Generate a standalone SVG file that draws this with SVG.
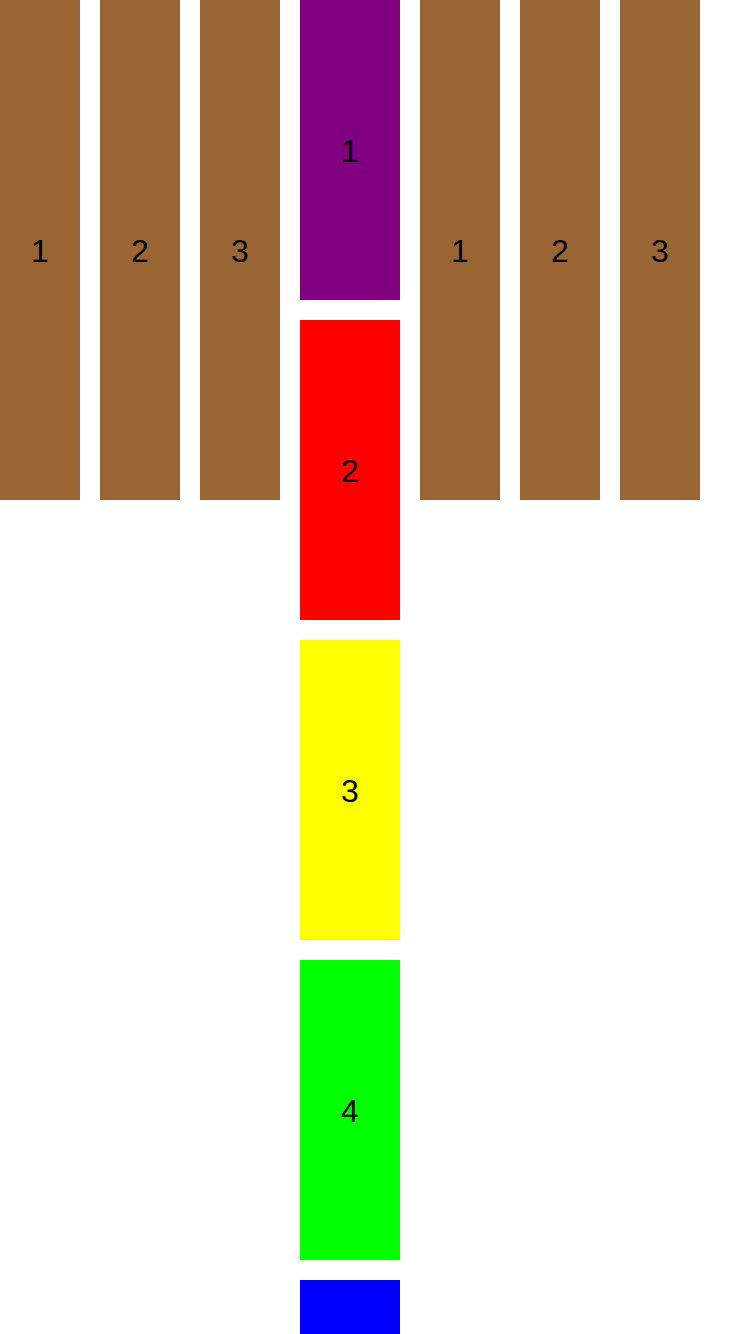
<svg xmlns="http://www.w3.org/2000/svg" width="750" height="1334" viewBox="0 0 750 1334">
<style>
.b{fill:#996633}
.t{font-family:"Liberation Sans",Arial,sans-serif;font-size:32px;fill:#000;text-anchor:middle}
</style>
<rect width="750" height="1334" fill="#fff"/>
<g id="left1"><rect class="b" x="0" y="0" width="80" height="500"/><text class="t" x="40" y="261.5">1</text></g>
<g id="left2"><rect class="b" x="100" y="0" width="80" height="500"/><text class="t" x="140" y="261.5">2</text></g>
<g id="left3"><rect class="b" x="200" y="0" width="80" height="500"/><text class="t" x="240" y="261.5">3</text></g>
<g id="c1"><rect x="300" y="0" width="100" height="300" fill="#800080"/><text class="t" x="350" y="161.5">1</text></g>
<g id="c2"><rect x="300" y="320" width="100" height="300" fill="#ff0000"/><text class="t" x="350" y="481.5">2</text></g>
<g id="c3"><rect x="300" y="640" width="100" height="300" fill="#ffff00"/><text class="t" x="350" y="801.5">3</text></g>
<g id="c4"><rect x="300" y="960" width="100" height="300" fill="#00ff00"/><text class="t" x="350" y="1121.5">4</text></g>
<g id="c5"><rect x="300" y="1280" width="100" height="300" fill="#0000ff"/></g>
<g id="right1"><rect class="b" x="420" y="0" width="80" height="500"/><text class="t" x="460" y="261.5">1</text></g>
<g id="right2"><rect class="b" x="520" y="0" width="80" height="500"/><text class="t" x="560" y="261.5">2</text></g>
<g id="right3"><rect class="b" x="620" y="0" width="80" height="500"/><text class="t" x="660" y="261.5">3</text></g>
<g id="connectors"></g>
</svg>
